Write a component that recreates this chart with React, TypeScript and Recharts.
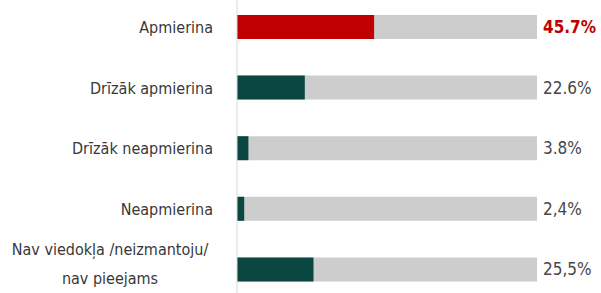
import React from 'react';
import { BarChart, Bar, XAxis, YAxis, Cell, LabelList } from 'recharts';

const categories = [
  'Apmierina',
  'Drīzāk apmierina',
  'Drīzāk neapmierina',
  'Neapmierina',
  'Nav viedokļa /neizmantoju/\nnav pieejams',
];
const values = [45.7, 22.6, 3.8, 2.4, 25.5];
const valueLabels = ['45.7%', '22.6%', '3.8%', '2,4%', '25,5%'];

const data = categories.map((name, i) => ({ name, value: values[i], label: valueLabels[i] }));

const W = 601;
const H = 303;
const LEFT = 237;
const RIGHT = 64;
const FONT = "'Liberation Sans Narrow', 'DejaVu Sans Condensed', 'Roboto Condensed', sans-serif";

const CategoryTick = (props: any) => {
  const { x, y, payload } = props;
  const lines: string[] = String(payload.value).split('\n');
  if (lines.length === 1) {
    return (
      <text x={x} y={y} dy="0.35em" textAnchor="end" fill="#383838" fontSize={16} fontFamily={FONT}>
        {lines[0]}
      </text>
    );
  }
  return (
    <text x={x - 103} y={y} textAnchor="middle" fill="#383838" fontSize={16} fontFamily={FONT}>
      <tspan x={x - 103} dy={-15}>{lines[0]}</tspan>
      <tspan x={x - 103} dy={29}>{lines[1]}</tspan>
    </text>
  );
};

const ValueLabel = (props: any) => {
  const { y, height, index } = props;
  const first = index === 0;
  return (
    <text
      x={W - RIGHT + 6}
      y={y + height / 2}
      dy="0.35em"
      textAnchor="start"
      fill={first ? '#c00000' : '#474747'}
      fontWeight={first ? 'bold' : 'normal'}
      fontSize={17}
      fontFamily={FONT}
    >
      {valueLabels[index]}
    </text>
  );
};

export default function App() {
  return (
    <div style={{ width: W, height: 293, overflow: 'hidden', background: '#fff' }}>
      <style>{'body{margin:0}'}</style>
      <div style={{ marginTop: -3 }}>
        <BarChart
          width={W}
          height={H}
          data={data}
          layout="vertical"
          margin={{ top: 0, right: RIGHT, bottom: 0, left: 0 }}
        >
          <XAxis type="number" domain={[0, 100]} hide />
          <YAxis
            type="category"
            dataKey="name"
            width={LEFT}
            axisLine={{ stroke: '#d9d9d9' }}
            tickLine={false}
            tickMargin={18}
            tick={<CategoryTick />}
            interval={0}
          />
          <Bar
            dataKey="value"
            barSize={24}
            background={{ fill: '#cdcdcd' }}
            isAnimationActive={false}
          >
            {data.map((d, i) => (
              <Cell key={d.name} fill={i === 0 ? '#c00000' : '#0b4741'} />
            ))}
            <LabelList dataKey="label" content={<ValueLabel />} />
          </Bar>
        </BarChart>
      </div>
    </div>
  );
}
